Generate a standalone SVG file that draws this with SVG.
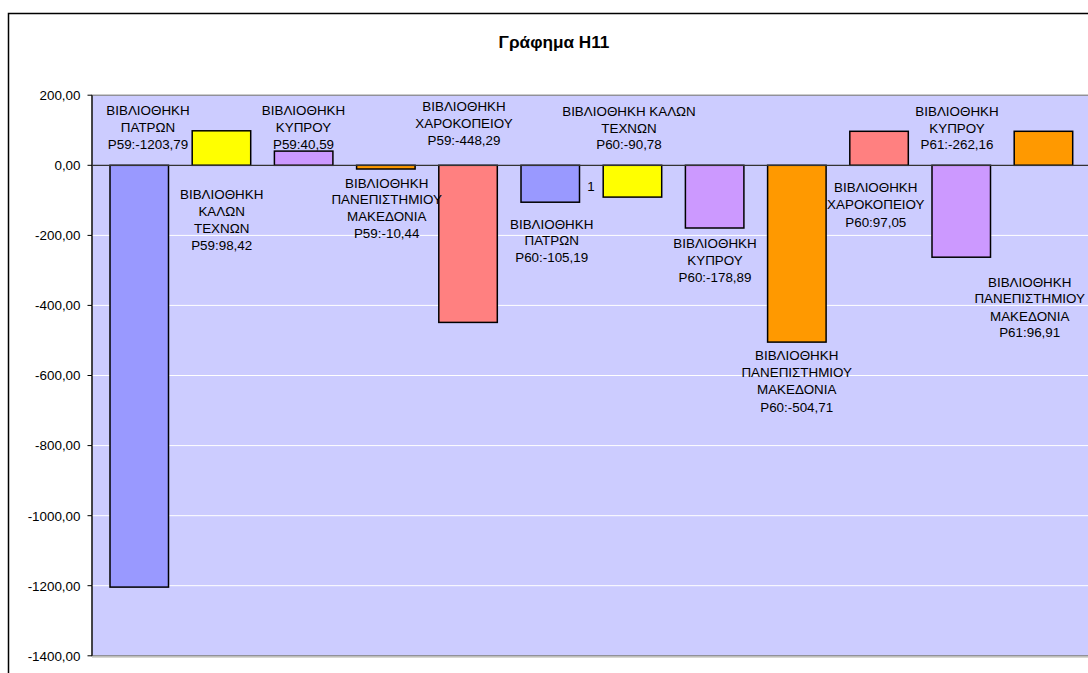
<svg xmlns="http://www.w3.org/2000/svg" width="1088" height="673" viewBox="0 0 1088 673">
<style>
text{font-family:"Liberation Sans",Arial,sans-serif;fill:#000}
.lbl{font-size:13.4px;text-anchor:middle}
.ax{font-size:13.4px;text-anchor:end}
.title{font-size:17.2px;font-weight:bold;text-anchor:middle}
.bar{stroke:#000;stroke-width:1.5}
.grid{stroke:#fff;stroke-width:1}
.b{fill:#9999FF}.y{fill:#FFFF00}.p{fill:#CC99FF}.o{fill:#FF9900}.r{fill:#FF8080}
</style>
<rect width="1088" height="673" fill="#fff"/>
<path d="M8.5,680 V13.5 H1095" fill="none" stroke="#000" stroke-width="1.5"/>
<g id="title"><text class="title" x="554" y="48">Γράφημα H11</text></g>
<g id="plot">
<rect x="92" y="95.2" width="1010" height="560.6" fill="#CCCCFF" stroke="#808080" stroke-width="1.2"/>
<line x1="92" y1="657" x2="1100" y2="657" stroke="#B0B0A8" stroke-width="1"/>
<g class="grid">
<line x1="92" y1="235.4" x2="1100" y2="235.4"/>
<line x1="92" y1="305.4" x2="1100" y2="305.4"/>
<line x1="92" y1="375.5" x2="1100" y2="375.5"/>
<line x1="92" y1="445.6" x2="1100" y2="445.6"/>
<line x1="92" y1="515.7" x2="1100" y2="515.7"/>
<line x1="92" y1="585.7" x2="1100" y2="585.7"/>
</g>
</g>
<g id="axis">
<line x1="92" y1="95.2" x2="92" y2="655.8" stroke="#000" stroke-width="1.2"/>
<g stroke="#000" stroke-width="1">
<line x1="87.5" y1="95.2" x2="92" y2="95.2"/>
<line x1="87.5" y1="165.3" x2="92" y2="165.3"/>
<line x1="87.5" y1="235.4" x2="92" y2="235.4"/>
<line x1="87.5" y1="305.4" x2="92" y2="305.4"/>
<line x1="87.5" y1="375.5" x2="92" y2="375.5"/>
<line x1="87.5" y1="445.6" x2="92" y2="445.6"/>
<line x1="87.5" y1="515.7" x2="92" y2="515.7"/>
<line x1="87.5" y1="585.7" x2="92" y2="585.7"/>
<line x1="87.5" y1="655.8" x2="92" y2="655.8"/>
</g>
<text class="ax" x="80.5" y="100">200,00</text>
<text class="ax" x="80.5" y="170.1">0,00</text>
<text class="ax" x="80.5" y="240.2">-200,00</text>
<text class="ax" x="80.5" y="310.2">-400,00</text>
<text class="ax" x="80.5" y="380.3">-600,00</text>
<text class="ax" x="80.5" y="450.4">-800,00</text>
<text class="ax" x="80.5" y="520.5">-1000,00</text>
<text class="ax" x="80.5" y="590.5">-1200,00</text>
<text class="ax" x="80.5" y="660.6">-1400,00</text>
</g>
<g id="bars">
<rect class="bar b" x="110" y="165.3" width="58.5" height="421.8"/>
<rect class="bar y" x="192.2" y="130.8" width="58.5" height="34.5"/>
<rect class="bar p" x="274.4" y="151.1" width="58.5" height="14.2"/>
<rect class="bar o" x="356.6" y="165.3" width="58.5" height="3.7"/>
<rect class="bar r" x="438.8" y="165.3" width="58.5" height="157.1"/>
<rect class="bar b" x="521" y="165.3" width="58.5" height="36.9"/>
<rect class="bar y" x="603.2" y="165.3" width="58.5" height="31.8"/>
<rect class="bar p" x="685.4" y="165.3" width="58.5" height="62.7"/>
<rect class="bar o" x="767.6" y="165.3" width="58.5" height="176.8"/>
<rect class="bar r" x="849.8" y="131.3" width="58.5" height="34"/>
<rect class="bar p" x="932" y="165.3" width="58.5" height="91.9"/>
<rect class="bar o" x="1014.2" y="131.3" width="58.5" height="34"/>
</g>
<line id="zero-axis" x1="92" y1="165.3" x2="1100" y2="165.3" stroke="#333" stroke-width="1.2"/>
<g id="labels">
<g id="l1"><text class="lbl" x="148" y="114.8">ΒΙΒΛΙΟΘΗΚΗ</text><text class="lbl" x="148" y="131.6">ΠΑΤΡΩΝ</text><text class="lbl" x="148" y="148.8">P59:-1203,79</text></g>
<g id="l2"><text class="lbl" x="221.7" y="198.8">ΒΙΒΛΙΟΘΗΚΗ</text><text class="lbl" x="221.7" y="215.8">ΚΑΛΩΝ</text><text class="lbl" x="221.7" y="232.8">ΤΕΧΝΩΝ</text><text class="lbl" x="221.7" y="249.8">P59:98,42</text></g>
<g id="l3"><text class="lbl" x="303.5" y="114.8">ΒΙΒΛΙΟΘΗΚΗ</text><text class="lbl" x="303.5" y="131.6">ΚΥΠΡΟΥ</text><text class="lbl" x="303.5" y="148.5">P59:40,59</text></g>
<g id="l4"><text class="lbl" x="386.7" y="187.5">ΒΙΒΛΙΟΘΗΚΗ</text><text class="lbl" x="386.7" y="204.3">ΠΑΝΕΠΙΣΤΗΜΙΟΥ</text><text class="lbl" x="386.7" y="221.3">ΜΑΚΕΔΟΝΙΑ</text><text class="lbl" x="386.7" y="238.3">P59:-10,44</text></g>
<g id="l5"><text class="lbl" x="464" y="110.5">ΒΙΒΛΙΟΘΗΚΗ</text><text class="lbl" x="464" y="127.5">ΧΑΡΟΚΟΠΕΙΟΥ</text><text class="lbl" x="464" y="144.6">P59:-448,29</text></g>
<g id="l6"><text class="lbl" x="629" y="116.4">ΒΙΒΛΙΟΘΗΚΗ ΚΑΛΩΝ</text><text class="lbl" x="629" y="133">ΤΕΧΝΩΝ</text><text class="lbl" x="629" y="149.4">P60:-90,78</text></g>
<g id="l7"><text class="lbl" x="591" y="190.8">1</text></g>
<g id="l8"><text class="lbl" x="551.7" y="228.8">ΒΙΒΛΙΟΘΗΚΗ</text><text class="lbl" x="551.7" y="245">ΠΑΤΡΩΝ</text><text class="lbl" x="551.7" y="261.5">P60:-105,19</text></g>
<g id="l9"><text class="lbl" x="715" y="247.5">ΒΙΒΛΙΟΘΗΚΗ</text><text class="lbl" x="715" y="264.5">ΚΥΠΡΟΥ</text><text class="lbl" x="715" y="281.5">P60:-178,89</text></g>
<g id="l10"><text class="lbl" x="796.7" y="359.8">ΒΙΒΛΙΟΘΗΚΗ</text><text class="lbl" x="796.7" y="376.6">ΠΑΝΕΠΙΣΤΗΜΙΟΥ</text><text class="lbl" x="796.7" y="394">ΜΑΚΕΔΟΝΙΑ</text><text class="lbl" x="796.7" y="411.5">P60:-504,71</text></g>
<g id="l11"><text class="lbl" x="875.8" y="192.1">ΒΙΒΛΙΟΘΗΚΗ</text><text class="lbl" x="875.8" y="209.1">ΧΑΡΟΚΟΠΕΙΟΥ</text><text class="lbl" x="875.8" y="226.5">P60:97,05</text></g>
<g id="l12"><text class="lbl" x="957" y="115.5">ΒΙΒΛΙΟΘΗΚΗ</text><text class="lbl" x="957" y="132.5">ΚΥΠΡΟΥ</text><text class="lbl" x="957" y="148.8">P61:-262,16</text></g>
<g id="l13"><text class="lbl" x="1029.7" y="286.5">ΒΙΒΛΙΟΘΗΚΗ</text><text class="lbl" x="1029.7" y="303.1">ΠΑΝΕΠΙΣΤΗΜΙΟΥ</text><text class="lbl" x="1029.7" y="320.5">ΜΑΚΕΔΟΝΙΑ</text><text class="lbl" x="1029.7" y="337.1">P61:96,91</text></g>
</g>
</svg>
